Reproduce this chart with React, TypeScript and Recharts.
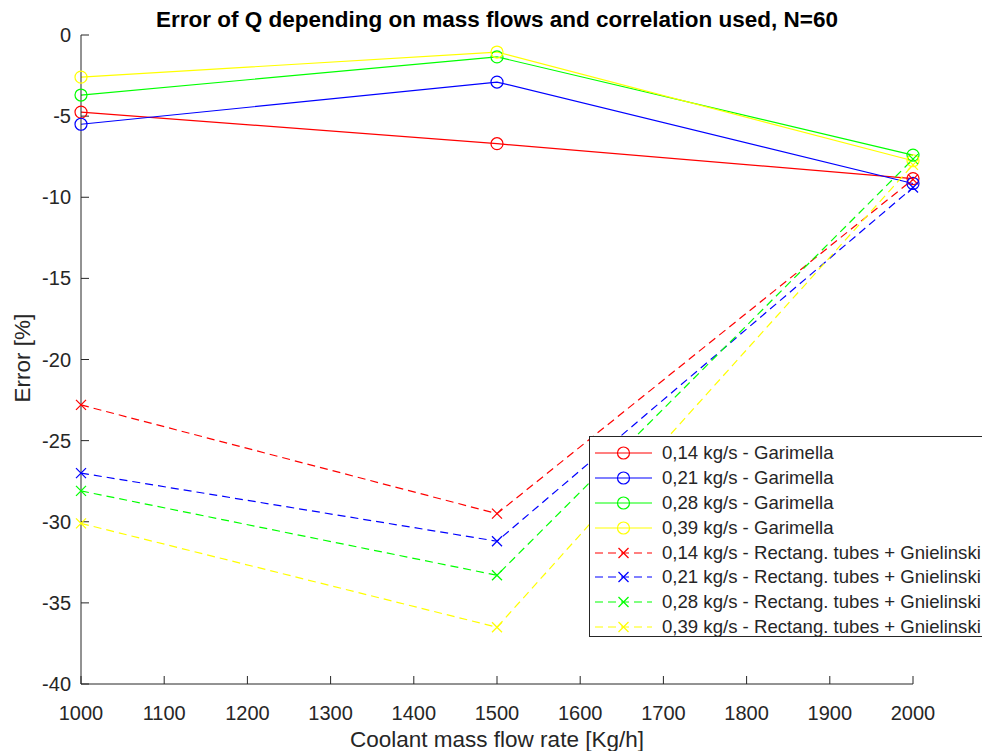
import {
  LineChart,
  Line,
  XAxis,
  YAxis,
  Legend,
} from "recharts";

// coolant mass flow rate [Kg/h]
const massFlows = [1000, 1500, 2000];

// error of Q [%], Garimella correlation
const garimella014 = [-4.75, -6.7, -8.85];
const garimella021 = [-5.5, -2.9, -9.15];
const garimella028 = [-3.7, -1.35, -7.4];
const garimella039 = [-2.6, -1.05, -7.75];

// error of Q [%], rectangular tubes + Gnielinski
const gnielinski014 = [-22.8, -29.5, -8.9];
const gnielinski021 = [-27.0, -31.2, -9.4];
const gnielinski028 = [-28.1, -33.3, -7.65];
const gnielinski039 = [-30.1, -36.5, -8.0];

const xTicks = [1000, 1100, 1200, 1300, 1400, 1500, 1600, 1700, 1800, 1900, 2000];
const yTicks = [0, -5, -10, -15, -20, -25, -30, -35, -40];

const series = [
  { key: "g014", name: "0,14 kg/s - Garimella", values: garimella014, color: "#ff0000", dashed: false },
  { key: "g021", name: "0,21 kg/s - Garimella", values: garimella021, color: "#0000ff", dashed: false },
  { key: "g028", name: "0,28 kg/s - Garimella", values: garimella028, color: "#00ff00", dashed: false },
  { key: "g039", name: "0,39 kg/s - Garimella", values: garimella039, color: "#ffff00", dashed: false },
  { key: "r014", name: "0,14 kg/s - Rectang. tubes + Gnielinski", values: gnielinski014, color: "#ff0000", dashed: true },
  { key: "r021", name: "0,21 kg/s - Rectang. tubes + Gnielinski", values: gnielinski021, color: "#0000ff", dashed: true },
  { key: "r028", name: "0,28 kg/s - Rectang. tubes + Gnielinski", values: gnielinski028, color: "#00ff00", dashed: true },
  { key: "r039", name: "0,39 kg/s - Rectang. tubes + Gnielinski", values: gnielinski039, color: "#ffff00", dashed: true },
];

const chartData = massFlows.map((x, i) => {
  const row: Record<string, number> = { x };
  series.forEach((s) => {
    row[s.key] = s.values[i];
  });
  return row;
});

const FONT = '"Liberation Sans", Arial, Helvetica, sans-serif';
const INK = "#262626";
const DASH = "8 5";

const Marker = ({ cx, cy, color, cross }: { cx: number; cy: number; color: string; cross: boolean }) => {
  if (cross) {
    const r = 5;
    return (
      <g>
        <line x1={cx - r} y1={cy - r} x2={cx + r} y2={cy + r} stroke={color} strokeWidth={1.2} />
        <line x1={cx - r} y1={cy + r} x2={cx + r} y2={cy - r} stroke={color} strokeWidth={1.2} />
      </g>
    );
  }
  return <circle cx={cx} cy={cy} r={6} fill="none" stroke={color} strokeWidth={1.2} />;
};

const LegendBox = () => (
  <div
    style={{
      border: `1px solid ${INK}`,
      background: "#fff",
      width: 420,
      height: 201,
      paddingTop: 4,
      boxSizing: "border-box",
      fontFamily: FONT,
      fontSize: 18.6,
      color: INK,
    }}
  >
    {series.map((s) => (
      <div key={s.key} style={{ display: "flex", alignItems: "center", height: 24.8, whiteSpace: "nowrap" }}>
        <svg width={72} height={24} style={{ flex: "none" }}>
          <line
            x1={5}
            y1={12}
            x2={62}
            y2={12}
            stroke={s.color}
            strokeWidth={1.2}
            strokeDasharray={s.dashed ? DASH : undefined}
          />
          <Marker cx={33.5} cy={12} color={s.color} cross={s.dashed} />
        </svg>
        <span>{s.name}</span>
      </div>
    ))}
  </div>
);

const App = () => {
  return (
    <div
      style={{
        position: "absolute",
        left: 0,
        top: 0,
        width: 982,
        height: 751,
        overflow: "hidden",
        background: "#fff",
        fontFamily: FONT,
      }}
    >
      <div
        style={{
          position: "absolute",
          left: 0,
          width: 994,
          top: 9,
          lineHeight: "22px",
          fontSize: 22.5,
          fontWeight: "bold",
          textAlign: "center",
          color: "#000",
          whiteSpace: "nowrap",
        }}
      >
        Error of Q depending on mass flows and correlation used, N=60
      </div>
      <LineChart
        width={982}
        height={751}
        data={chartData}
        margin={{ top: 35, right: 69, bottom: 0, left: 0 }}
      >
        <XAxis
          xAxisId="bottom"
          dataKey="x"
          type="number"
          domain={[1000, 2000]}
          ticks={xTicks}
          height={67}
          tickSize={-8}
          tickMargin={30}
          stroke={INK}
          tick={{ fill: INK, fontSize: 20, fontFamily: FONT }}
        />
        <XAxis
          xAxisId="top"
          orientation="top"
          dataKey="x"
          type="number"
          domain={[1000, 2000]}
          ticks={xTicks}
          height={0}
          tickSize={-8}
          stroke={INK}
          tickFormatter={() => ""}
        />
        <YAxis
          yAxisId="left"
          type="number"
          domain={[-40, 0]}
          ticks={yTicks}
          width={81}
          tickSize={-8}
          tickMargin={18}
          stroke={INK}
          tick={{ fill: INK, fontSize: 20, fontFamily: FONT }}
        />
        <YAxis
          yAxisId="right"
          orientation="right"
          type="number"
          domain={[-40, 0]}
          ticks={yTicks}
          width={0}
          tickSize={-8}
          stroke={INK}
          tickFormatter={() => ""}
        />
        {series.map((s) => (
          <Line
            key={s.key}
            xAxisId="bottom"
            yAxisId="left"
            dataKey={s.key}
            name={s.name}
            type="linear"
            stroke={s.color}
            strokeWidth={1.2}
            strokeDasharray={s.dashed ? DASH : undefined}
            dot={(p: any) => <Marker key={`${s.key}-${p.index}`} cx={p.cx} cy={p.cy} color={s.color} cross={s.dashed} />}
            activeDot={false}
            isAnimationActive={false}
          />
        ))}
        <Legend
          layout="horizontal"
          verticalAlign="middle"
          align="center"
          content={() => <LegendBox />}
          wrapperStyle={{ position: "absolute", left: 589, top: 436, width: 420, height: 201 }}
        />
      </LineChart>
      <div
        style={{
          position: "absolute",
          left: 0,
          width: 994,
          top: 729,
          lineHeight: "22px",
          fontSize: 22.5,
          textAlign: "center",
          color: INK,
          whiteSpace: "nowrap",
        }}
      >
        Coolant mass flow rate [Kg/h]
      </div>
      <div
        style={{
          position: "absolute",
          left: 23 - 100,
          top: 358 - 11,
          width: 200,
          lineHeight: "22px",
          fontSize: 22.5,
          textAlign: "center",
          color: INK,
          transform: "rotate(-90deg)",
          whiteSpace: "nowrap",
        }}
      >
        Error [%]
      </div>
    </div>
  );
};

export default App;
